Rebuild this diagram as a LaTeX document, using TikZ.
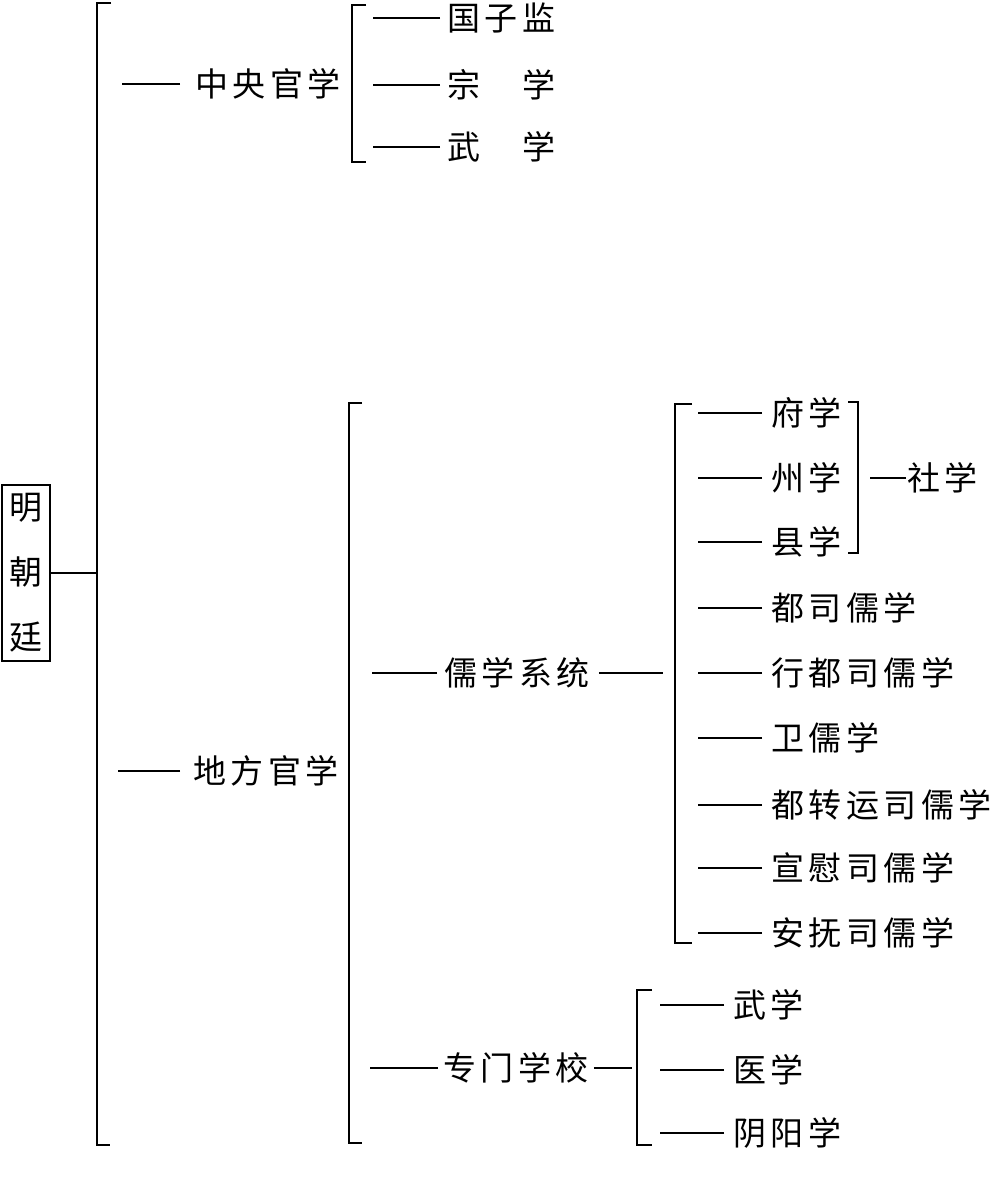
\documentclass[tikz,border=0pt]{standalone}
\usepackage{fontspec}
\newfontfamily\cn{Noto Sans CJK SC}
\newcommand\kk{\kern4.5pt}
\begin{document}
\begin{tikzpicture}[x=1pt,y=-1pt,
  lab/.style={anchor=west,inner sep=0pt,font=\cn\fontsize{33pt}{38pt}\selectfont,text height=29pt,text depth=4pt},
  conn/.style={line width=1.3pt},
  brk/.style={line width=2pt},
  rootbox/.style={draw,line width=1.6pt,minimum width=48pt,minimum height=176pt,inner sep=0pt,align=center,font=\cn\fontsize{33pt}{65pt}\selectfont}]
\useasboundingbox (0,0) rectangle (992,1180);
% root
\node[rootbox] (root) at (26,573) {明\\朝\\廷};
% main bracket
\coordinate (mb) at (97,573);
\draw[brk] (111,3) -- (97,3) -- (97,1145) -- (110,1145);
\draw[conn] (root.east) -- (mb);
% level 1
\node[lab] (zy) at (195,84) {中\kk 央\kk 官\kk 学};
\node[lab] (df) at (193,771) {地\kk 方\kk 官\kk 学};
\draw[conn] ([xshift=-15pt]zy.west) -- ++(-58,0);
\draw[conn] ([xshift=-13pt]df.west) -- ++(-62,0);
% bracket of 中央官学
\draw[brk] (366,5) -- (352,5) -- (352,162) -- (366,162);
\node[lab] (gzj) at (447,18) {国\kk 子\kk 监};
\node[lab] (zx) at (447,85) {宗\kern42pt 学};
\node[lab] (wxa) at (447,147) {武\kern42pt 学};
\foreach \n in {gzj,zx,wxa}{\draw[conn] ([xshift=-7pt]\n.west) -- ++(-67,0);}
% bracket of 地方官学
\draw[brk] (362,403) -- (349,403) -- (349,1143) -- (362,1143);
\node[lab] (rx) at (444,673) {儒\kk 学\kk 系\kk 统};
\node[lab] (zm) at (443,1068) {专\kk 门\kk 学\kk 校};
\draw[conn] ([xshift=-7pt]rx.west) -- ++(-65,0);
\draw[conn] ([xshift=-5pt]zm.west) -- ++(-68,0);
\draw[conn] ([xshift=9pt]rx.east) -- (663,673);
\draw[conn] ([xshift=5pt]zm.east) -- (632,1068);
% bracket of 儒学系统
\draw[brk] (692,404) -- (675,404) -- (675,943) -- (692,943);
\node[lab] (fx) at (771,413) {府\kk 学};
\node[lab] (zhx) at (771,478) {州\kk 学};
\node[lab] (xx) at (771,542) {县\kk 学};
\node[lab] (dsr) at (771,608) {都\kk 司\kk 儒\kk 学};
\node[lab] (xds) at (771,673) {行\kk 都\kk 司\kk 儒\kk 学};
\node[lab] (wr) at (771,738) {卫\kk 儒\kk 学};
\node[lab] (dzy) at (771,805) {都\kk 转\kk 运\kk 司\kk 儒\kk 学};
\node[lab] (xw) at (771,868) {宣\kk 慰\kk 司\kk 儒\kk 学};
\node[lab] (af) at (771,933) {安\kk 抚\kk 司\kk 儒\kk 学};
\foreach \n in {fx,zhx,xx,dsr,xds,wr,dzy,xw,af}{\draw[conn] ([xshift=-9pt]\n.west) -- ++(-64,0);}
% right bracket 府州县
\draw[brk] (848,402) -- (858,402) -- (858,553) -- (848,553);
\node[lab] (sx) at (907,478) {社\kk 学};
\draw[conn] ([xshift=-1pt]sx.west) -- (870,478);
% bracket of 专门学校
\draw[brk] (652,990) -- (637,990) -- (637,1145) -- (652,1145);
\node[lab] (wxb) at (733,1005) {武\kk 学};
\node[lab] (yx) at (733,1070) {医\kk 学};
\node[lab] (yyx) at (733,1133) {阴\kk 阳\kk 学};
\foreach \n in {wxb,yx,yyx}{\draw[conn] ([xshift=-9pt]\n.west) -- ++(-64,0);}
\end{tikzpicture}
\end{document}
